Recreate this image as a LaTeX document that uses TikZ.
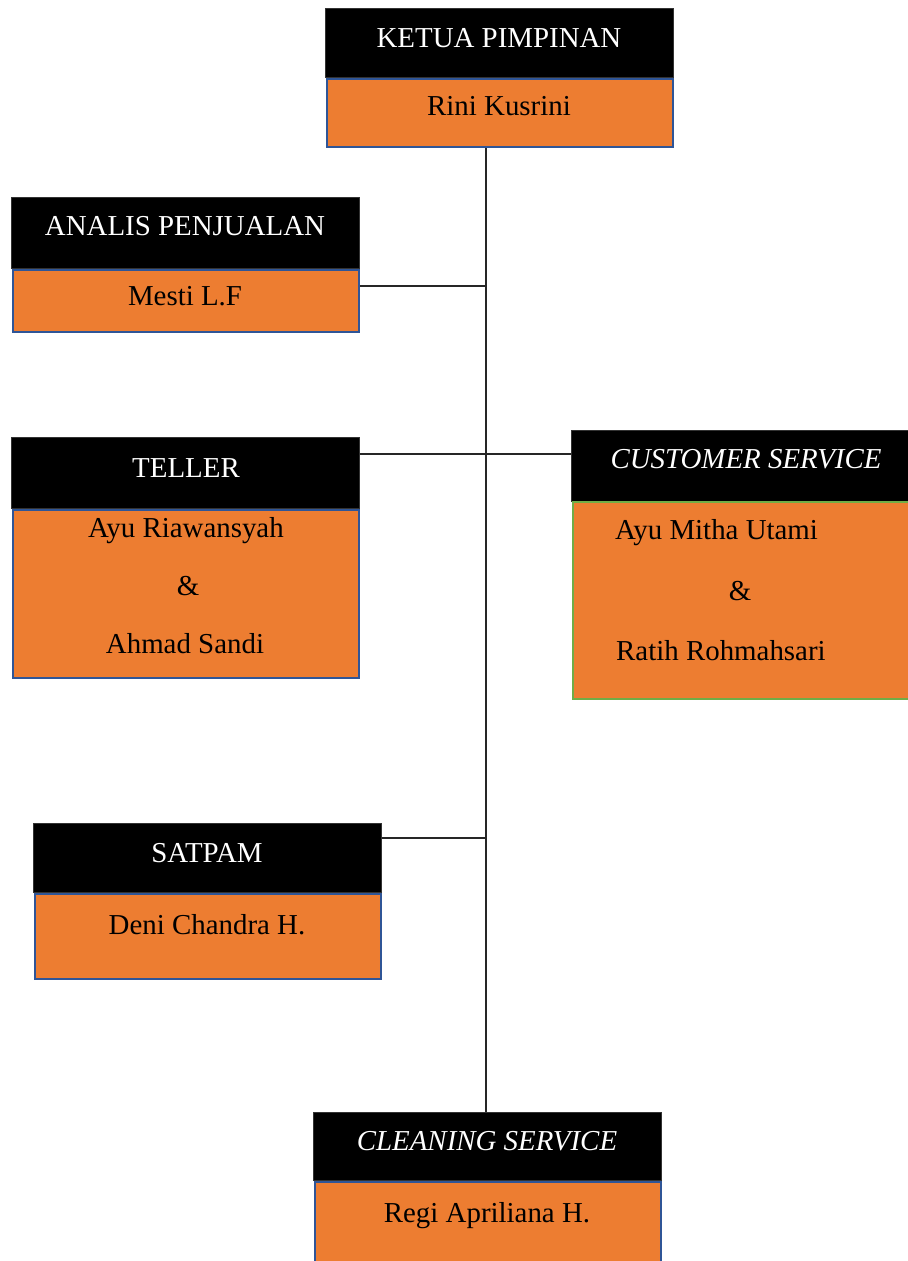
\documentclass[tikz,border=0pt]{standalone}
\usepackage{fontspec}
\setmainfont{Liberation Serif}
\definecolor{borange}{HTML}{ED7D31}
\definecolor{bblue}{HTML}{2F5597}
\definecolor{bgreen}{HTML}{70AD47}
\begin{document}
\begin{tikzpicture}[x=1bp,y=-1bp,
  hdr/.style={fill=black,draw=black!80,line width=0.6bp,inner sep=0pt,anchor=north west},
  body/.style={fill=borange,draw=bblue,line width=2bp,inner sep=0pt,anchor=north west},
  ttl/.style={text=white,font=\fontsize{29}{34}\selectfont,inner sep=0pt,anchor=base},
  nm/.style={text=black,font=\fontsize{29}{34}\selectfont,inner sep=0pt,anchor=base},
  conn/.style={draw=black!85,line width=1.3bp}]
\useasboundingbox (0,0) rectangle (908,1261);
% KETUA
\node[hdr,minimum width=348bp,minimum height=69bp] (ketuaT) at (325,8) {};
\node[body,minimum width=346bp,minimum height=68bp] (ketuaN) at (326,78) {};
\node[ttl] (ketuaTt) at (499,47) {KETUA PIMPINAN};
\node[nm] (ketuaNt) at (499,115) {Rini Kusrini};
% ANALIS
\node[hdr,minimum width=348bp,minimum height=71bp] (analisT) at (11,197) {};
\node[body,minimum width=346bp,minimum height=62bp] (analisN) at (12,269) {};
\node[ttl] (analisTt) at (185,235) {ANALIS PENJUALAN};
\node[nm] (analisNt) at (185,305) {Mesti L.F};
% TELLER
\node[hdr,minimum width=348bp,minimum height=71bp] (tellerT) at (11,437) {};
\node[body,minimum width=346bp,minimum height=168bp] (tellerN) at (12,509) {};
\node[ttl] (tellerTt) at (186,477) {TELLER};
\node[nm] (tellerN1) at (186,537) {Ayu Riawansyah};
\node[nm] (tellerN2) at (188,595) {\&};
\node[nm] (tellerN3) at (185,653) {Ahmad Sandi};
% CUSTOMER SERVICE
\node[hdr,minimum width=338bp,minimum height=71bp] (csT) at (571,430) {};
\node[body,draw=bgreen,minimum width=340bp,minimum height=197bp] (csN) at (572,501) {};
\node[ttl,font=\fontsize{29}{34}\selectfont\itshape] (csTt) at (746,468) {CUSTOMER SERVICE};
\node[nm,anchor=base west] (csN1) at (615,539) {Ayu Mitha Utami};
\node[nm] (csN2) at (740,600) {\&};
\node[nm,anchor=base west] (csN3) at (616,660) {Ratih Rohmahsari};
% SATPAM
\node[hdr,minimum width=348bp,minimum height=69bp] (satpamT) at (33,823) {};
\node[body,minimum width=346bp,minimum height=85bp] (satpamN) at (34,893) {};
\node[ttl] (satpamTt) at (207,862) {SATPAM};
\node[nm] (satpamNt) at (207,934) {Deni Chandra H.};
% CLEANING SERVICE
\node[hdr,minimum width=348bp,minimum height=68bp] (cleanT) at (313,1112) {};
\node[body,minimum width=346bp,minimum height=90bp] (cleanN) at (314,1181) {};
\node[ttl,font=\fontsize{29}{34}\selectfont\itshape] (cleanTt) at (487,1150) {CLEANING SERVICE};
\node[nm] (cleanNt) at (487,1222) {Regi Apriliana H.};
% connectors
\coordinate (trunk) at (486,0);
\coordinate (jA) at (486,286);
\coordinate (jT) at (486,454);
\coordinate (jS) at (486,838);
\draw[conn] (ketuaN.south -| trunk) -- (cleanT.north -| trunk);
\draw[conn] (jA -| analisN.east) -- (jA);
\draw[conn] (jT -| tellerT.east) -- (jT -| csT.west);
\draw[conn] (jS -| satpamT.east) -- (jS);
\end{tikzpicture}
\end{document}
